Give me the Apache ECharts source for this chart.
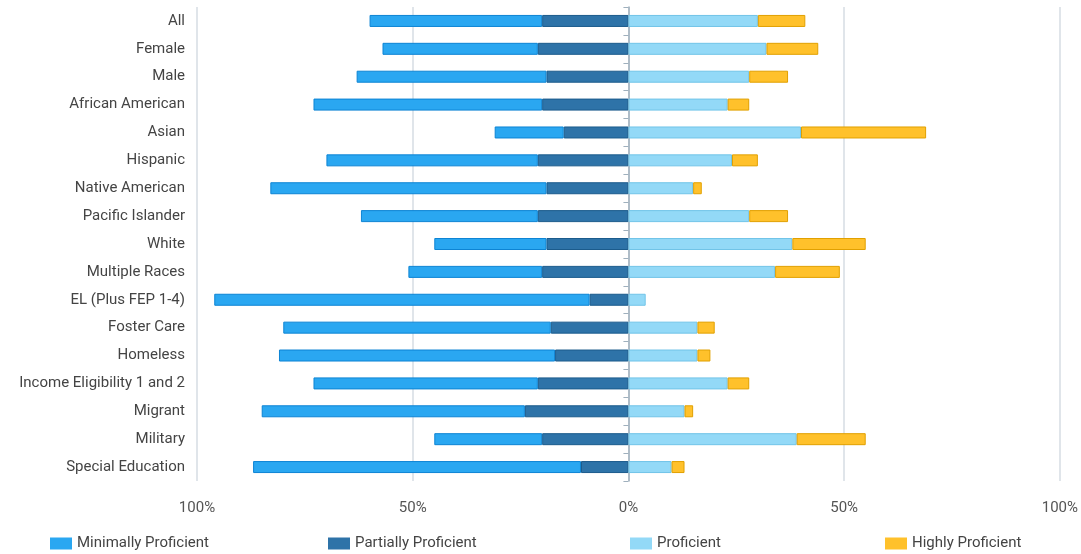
<!DOCTYPE html>
<html>
<head>
<meta charset="utf-8">
<script src="https://cdn.jsdelivr.net/npm/echarts@6/dist/echarts.min.js"></script>
<style>
  html, body { margin: 0; padding: 0; background: #fff; }
  #chart { width: 1081px; height: 554px; }
</style>
</head>
<body>
<div id="chart"></div>
<script>
// groups, top to bottom
const groups = ['All', 'Female', 'Male', 'African American', 'Asian', 'Hispanic', 'Native American',
    'Pacific Islander', 'White', 'Multiple Races', 'EL (Plus FEP 1-4)', 'Foster Care', 'Homeless',
    'Income Eligibility 1 and 2', 'Migrant', 'Military', 'Special Education'];

// percentages per level (the first two are drawn to the left of 0)
const minimal   = [40, 36, 44, 53, 16, 49, 64, 41, 26, 31, 87, 62, 64, 52, 61, 25, 76];
const partial   = [20, 21, 19, 20, 15, 21, 19, 21, 19, 20, 9, 18, 17, 21, 24, 20, 11];
const proficient = [30, 32, 28, 23, 40, 24, 15, 28, 38, 34, 4, 16, 16, 23, 13, 39, 10];
const highly    = [11, 12, 9, 5, 29, 6, 2, 9, 17, 15, 0, 4, 3, 5, 2, 16, 3];

const xTicks = [-100, -50, 0, 50, 100];

const levelNames = ['Minimally Proficient', 'Partially Proficient', 'Proficient', 'Highly Proficient'];
const colors = ['#2aa7f1', '#2e73a8', '#93d9f7', '#ffc12b'];
const borders = ['#0d84d4', '#1b5b8c', '#71c4e8', '#e1a000'];

document.addEventListener('DOMContentLoaded', () => {
    const chart = echarts.init(document.getElementById('chart'));

    const makeSeries = (name, values, idx, negative) => ({
        name: name,
        type: 'bar',
        stack: 'total',
        barWidth: 12,
        data: values.map(v => v === 0 ? '-' : (negative ? -v : v)),
        itemStyle: { color: colors[idx], borderColor: borders[idx], borderWidth: 1 },
        emphasis: { disabled: true }
    });

    const legendLefts = [45, 323, 625, 880];

    const option = {
        animation: false,
        textStyle: { fontFamily: 'Roboto, "Liberation Sans", sans-serif' },
        grid: { left: 197, right: 19, top: 7, bottom: 73 },
        legend: levelNames.map((n, i) => ({
            data: [n],
            left: legendLefts[i],
            top: 531,
            itemWidth: 22,
            itemHeight: 12,
            itemGap: 5,
            icon: 'rect',
            itemStyle: { borderWidth: 0 },
            textStyle: { fontSize: 15, color: '#444', fontFamily: 'Roboto, sans-serif' }
        })),
        xAxis: {
            type: 'value',
            min: -100,
            max: 100,
            interval: 50,
            axisLine: { show: false },
            axisTick: { show: false },
            splitLine: { lineStyle: { color: '#d6dde3', width: 1.5 } },
            axisLabel: {
                margin: 20,
                fontSize: 15,
                color: '#555',
                formatter: v => xTicks.includes(v) ? Math.abs(v) + '%' : ''
            }
        },
        yAxis: [
            {
                type: 'category',
                data: groups,
                inverse: true,
                axisLine: { show: false, onZero: false },
                axisTick: { show: false },
                axisLabel: { fontSize: 15, color: '#444', margin: 12 }
            },
            {
                type: 'category',
                data: groups,
                inverse: true,
                position: 'left',
                axisLine: { show: true, onZero: true, lineStyle: { color: '#9fb0bd', width: 1.5 } },
                axisTick: { show: true, length: 5, lineStyle: { color: '#9fb0bd' } },
                axisLabel: { show: false }
            }
        ],
        series: [
            makeSeries(levelNames[1], partial, 1, true),
            makeSeries(levelNames[0], minimal, 0, true),
            makeSeries(levelNames[2], proficient, 2, false),
            makeSeries(levelNames[3], highly, 3, false)
        ]
    };

    chart.setOption(option);
});
</script>
</body>
</html>
